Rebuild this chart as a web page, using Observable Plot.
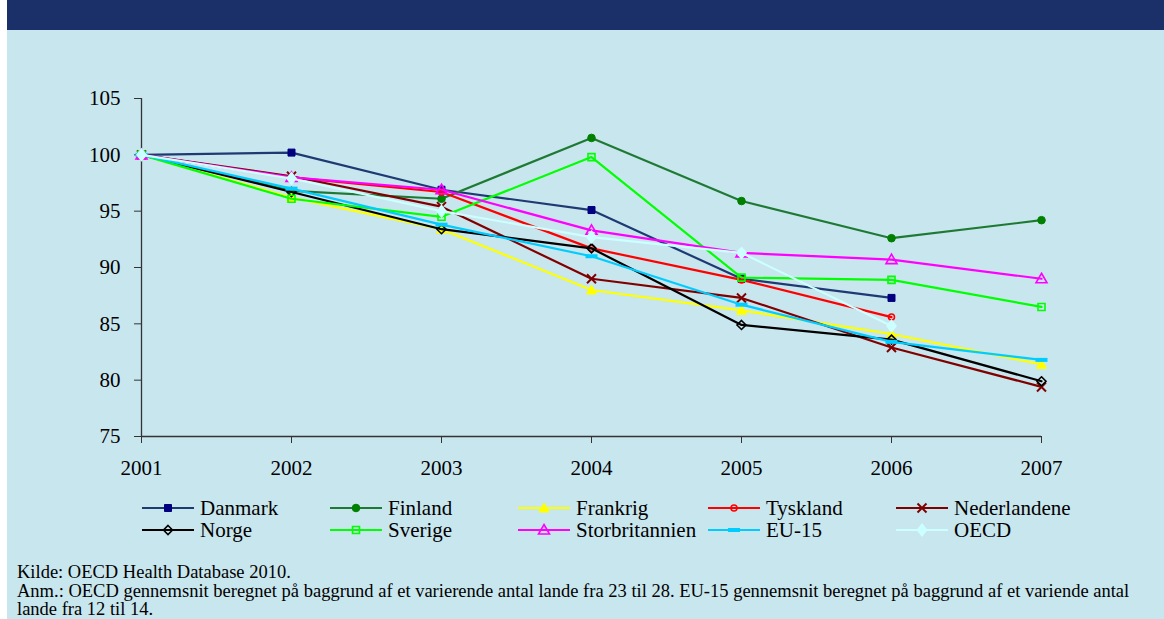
<!DOCTYPE html>
<html><head><meta charset="utf-8">
<script src="https://cdn.jsdelivr.net/npm/d3@7"></script>
<script src="https://cdn.jsdelivr.net/npm/@observablehq/plot@0.6"></script>
<style>
body{margin:0;background:#fff;}
#page{position:relative;width:1164px;height:619px;overflow:hidden;font-family:"Liberation Serif","Times New Roman",serif;color:#000;}
#bg{position:absolute;left:7px;top:0;right:0;bottom:0;background:#c8e6ee;}
#hdr{position:absolute;left:7px;top:0;right:0;height:30px;background:#1b3068;}
#chart{position:absolute;left:0;top:30px;}
#legend{position:absolute;left:0;top:0;}
#chart svg, #chart svg text, #legend text{font-family:"Liberation Serif","Times New Roman",serif !important;}
.note{position:absolute;left:17px;font-size:18.5px;line-height:18.6px;top:563px;width:1140px;}
</style></head>
<body>
<div id="page">
  <div id="bg"></div>
  <div id="hdr"></div>
  <div id="chart"></div>
  <svg id="legend" width="1164" height="619"></svg>
  <div class="note">Kilde: OECD Health Database 2010.<br>Anm.: OECD gennemsnit beregnet på baggrund af et varierende antal lande fra 23 til 28. EU-15 gennemsnit beregnet på baggrund af et variende antal lande fra 12 til 14.</div>
</div>
<script>
const years = [2001, 2002, 2003, 2004, 2005, 2006, 2007];
const seriesNames = ["Danmark","Finland","Frankrig","Tyskland","Nederlandene","Norge","Sverige","Storbritannien","EU-15","OECD"];
const danmark        = [100, 100.2, 96.9, 95.1, 89.0, 87.3, null];
const finland        = [100, 96.8, 96.1, 101.5, 95.9, 92.6, 94.2];
const frankrig       = [100, 96.2, 93.4, 88.0, 86.2, 84.1, 81.4];
const tyskland       = [100, 98.0, 96.7, 91.7, 88.9, 85.6, null];
const nederlandene   = [100, 98.1, 95.4, 89.0, 87.3, 82.9, 79.4];
const norge          = [100, 96.7, 93.4, 91.7, 84.9, 83.6, 79.9];
const sverige        = [100, 96.1, 94.5, 99.8, 89.1, 88.9, 86.5];
const storbritannien = [100, 98.0, 96.9, 93.3, 91.3, 90.7, 89.0];
const eu15           = [100, 97.0, 93.8, 91.0, 86.7, 83.4, 81.8];
const oecd           = [100, 97.9, 95.0, 92.7, 91.3, 84.8, null];
const yTicks = [75, 80, 85, 90, 95, 100, 105];

const seriesValues = [danmark, finland, frankrig, tyskland, nederlandene, norge, sverige, storbritannien, eu15, oecd];

// marker shapes
const poly = pts => ({draw(c){c.moveTo(pts[0][0],pts[0][1]);for(let i=1;i<pts.length;i++)c.lineTo(pts[i][0],pts[i][1]);c.closePath();}});
const SYM = {
  square: {draw(c){c.rect(-3.5,-3.5,7,7);}},
  circle: {draw(c){c.moveTo(3.8,0);c.arc(0,0,3.8,0,2*Math.PI);}},
  triangle: poly([[0,-5],[5,4],[-5,4]]),
  ocircle: {draw(c){c.moveTo(3,0);c.arc(0,0,3,0,2*Math.PI);}},
  times: {draw(c){c.moveTo(-4.5,-4.5);c.lineTo(4.5,4.5);c.moveTo(4.5,-4.5);c.lineTo(-4.5,4.5);}},
  diamond: poly([[0,-4.5],[4.5,0],[0,4.5],[-4.5,0]]),
  osquare: {draw(c){c.rect(-3.5,-3.5,7,7);}},
  otriangle: poly([[0,-5.5],[5.5,4],[-5.5,4]]),
  dash: {draw(c){c.rect(-6,-2,12,4);}},
  bigdiamond: poly([[0,-7],[5.5,0],[0,7],[-5.5,0]])
};
const styles = [
  {line:"#1f3a73", sym:SYM.square, fill:"#000080", stroke:"#000080", sw:1},
  {line:"#1e7a33", sym:SYM.circle, fill:"#008000", stroke:"#008000", sw:1},
  {line:"#ffff00", sym:SYM.triangle, fill:"#ffff00", stroke:"#ffff00", sw:1},
  {line:"#ff0000", sym:SYM.ocircle, fill:"none", stroke:"#ff0000", sw:1.6},
  {line:"#800000", sym:SYM.times, fill:"none", stroke:"#800000", sw:2},
  {line:"#000000", sym:SYM.diamond, fill:"none", stroke:"#000000", sw:1.6},
  {line:"#00ff00", sym:SYM.osquare, fill:"none", stroke:"#00ff00", sw:1.6},
  {line:"#ff00ff", sym:SYM.otriangle, fill:"none", stroke:"#ff00ff", sw:1.6},
  {line:"#00ccff", sym:SYM.dash, fill:"#00ccff", stroke:"none", sw:0},
  {line:"#ccffff", sym:SYM.bigdiamond, fill:"#ccffff", stroke:"none", sw:0}
];

const marks = [];
marks.push(Plot.ruleX([years[0]], {y1: yTicks[0], y2: yTicks[yTicks.length-1], stroke:"#333", strokeWidth:1.3}));
marks.push(Plot.ruleY([yTicks[0]], {x1: years[0], x2: years[years.length-1], stroke:"#333", strokeWidth:1.3}));
marks.push(Plot.axisY({ticks: yTicks, tickSize: 7, tickPadding: 14, stroke:"#333", fontSize: 21, label: null}));
marks.push(Plot.axisX({ticks: years, tickFormat: d => String(d), tickSize: 7, tickPadding: 17, stroke:"#333", fontSize: 21, label: null}));
seriesNames.forEach((name, i) => {
  const rows = years.map((y, j) => ({year: y, value: seriesValues[i][j]})).filter(d => d.value != null);
  const s = styles[i];
  marks.push(Plot.line(rows, {x:"year", y:"value", stroke:s.line, strokeWidth:2.2}));
  marks.push(Plot.dot(rows, {x:"year", y:"value", symbol: () => s.sym, r: 4, fill:s.fill, stroke:s.stroke, strokeWidth:s.sw}));
});

const chart = Plot.plot({
  width: 1164, height: 450,
  marginLeft: 141, marginRight: 123, marginTop: 68, marginBottom: 44,
  x: {domain: [years[0], years[years.length-1]], label: null},
  y: {domain: [yTicks[0], yTicks[yTicks.length-1]], label: null},
  symbol: {type: "identity"},
  style: {background: "transparent", fontFamily: "Liberation Serif", fontSize: "21px", color: "#000", overflow: "visible"},
  marks
});
document.getElementById("chart").appendChild(chart);

// legend
const lg = d3.select("#legend");
const colX = [142, 330, 518, 708, 896];
const rowY = [508, 530];
seriesNames.forEach((name, i) => {
  const x = colX[i % 5], y = rowY[Math.floor(i / 5)], s = styles[i];
  lg.append("line").attr("x1", x).attr("x2", x + 52).attr("y1", y).attr("y2", y).attr("stroke", s.line).attr("stroke-width", 2.2);
  lg.append("path").attr("d", d3.symbol().type(s.sym)()).attr("transform", `translate(${x + 26},${y})`)
    .attr("fill", s.fill).attr("stroke", s.stroke).attr("stroke-width", s.sw);
  lg.append("text").attr("x", x + 58).attr("y", y + 7).style("font-size", "21px").text(name);
});
</script>
</body></html>
